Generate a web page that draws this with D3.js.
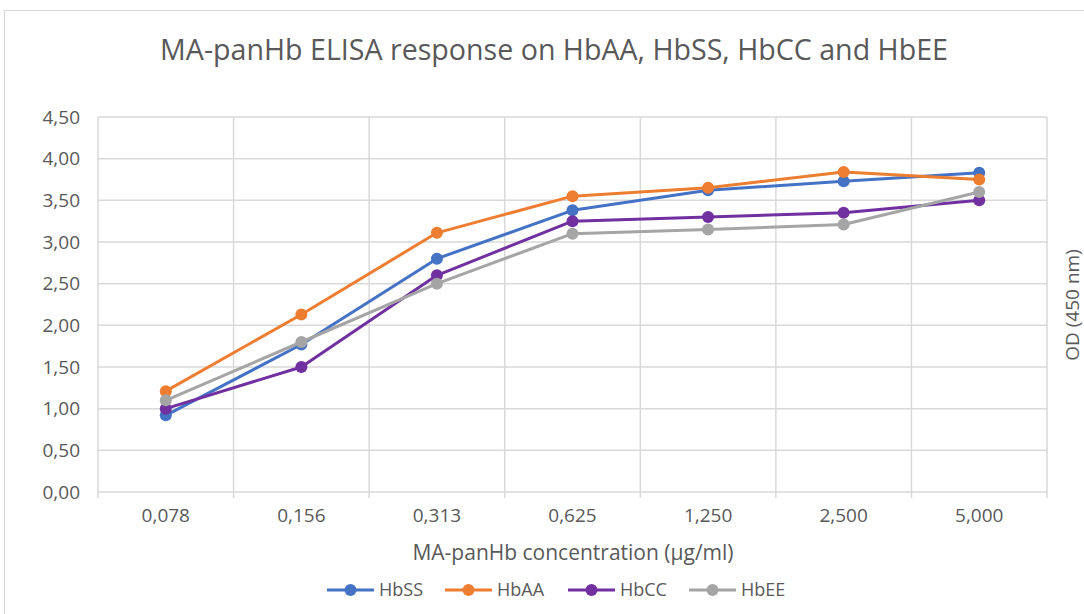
<!DOCTYPE html>
<html>
<head>
<meta charset="utf-8">
<script src="https://cdn.jsdelivr.net/npm/d3@7"></script>
<style>
    body { margin: 0; background: #fff; }
    svg text { font-family: "Open Sans", "Noto Sans", sans-serif; fill: #595959; }
</style>
</head>
<body>
<div id="chart"></div>
<script>
// categories and values
const categories = ['0,078', '0,156', '0,313', '0,625', '1,250', '2,500', '5,000'];
const hbSS = [0.92, 1.77, 2.80, 3.38, 3.62, 3.73, 3.83];
const hbAA = [1.21, 2.13, 3.11, 3.55, 3.65, 3.84, 3.75];
const hbCC = [1.00, 1.50, 2.60, 3.25, 3.30, 3.35, 3.50];
const hbEE = [1.10, 1.80, 2.50, 3.10, 3.15, 3.21, 3.60];
const seriesNames = ['HbSS', 'HbAA', 'HbCC', 'HbEE'];
const yTicks = [0, 0.5, 1, 1.5, 2, 2.5, 3, 3.5, 4, 4.5];

const colors = ['#4472C4', '#ED7D31', '#7030A0', '#A5A5A5'];
const series = [hbSS, hbAA, hbCC, hbEE].map((values, i) => ({ name: seriesNames[i], values, color: colors[i] }));

const width = 1084, height = 614;
const plot = { left: 98, right: 1047, top: 117, bottom: 492 };

const svg = d3.select('#chart').append('svg')
    .attr('width', width)
    .attr('height', height);

// chart frame
svg.append('rect')
    .attr('x', 4.5).attr('y', 10.5)
    .attr('width', width + 10).attr('height', height + 10)
    .attr('fill', 'none')
    .attr('stroke', '#d9d9d9');

const x = d3.scaleBand().domain(categories).range([plot.left, plot.right]);
const y = d3.scaleLinear().domain([0, 4.5]).range([plot.bottom, plot.top]);

// horizontal gridlines
svg.append('g')
    .selectAll('line')
    .data(yTicks)
    .enter()
    .append('line')
    .attr('x1', plot.left).attr('x2', plot.right)
    .attr('y1', d => y(d)).attr('y2', d => y(d))
    .attr('stroke', '#d9d9d9').attr('stroke-width', 1.5);

// vertical gridlines at category boundaries
const bounds = categories.map(c => x(c)).concat([plot.right]);
svg.append('g')
    .selectAll('line')
    .data(bounds)
    .enter()
    .append('line')
    .attr('x1', d => d).attr('x2', d => d)
    .attr('y1', plot.top).attr('y2', plot.bottom + 6)
    .attr('stroke', '#d9d9d9').attr('stroke-width', 1.5);

// y axis labels
const yAxis = svg.append('g')
    .attr('transform', `translate(${plot.left},0)`)
    .call(d3.axisLeft(y).tickValues(yTicks).tickSize(0).tickPadding(18)
        .tickFormat(d => d3.format('.2f')(d).replace('.', ',')));
yAxis.select('.domain').remove();
yAxis.selectAll('text').style('font-size', '19px').attr('fill', '#595959');

// x axis labels
const xAxis = svg.append('g')
    .attr('transform', `translate(0,${plot.bottom})`)
    .call(d3.axisBottom(x).tickSize(0).tickPadding(17));
xAxis.select('.domain').remove();
xAxis.selectAll('text').style('font-size', '19px').attr('fill', '#595959');

// lines and markers
const line = d3.line()
    .x((d, i) => x(categories[i]) + x.bandwidth() / 2)
    .y(d => y(d));

series.forEach(s => {
    svg.append('path')
        .datum(s.values)
        .attr('fill', 'none')
        .attr('stroke', s.color)
        .attr('stroke-width', 3)
        .attr('stroke-linejoin', 'round')
        .attr('d', line);
    svg.append('g')
        .selectAll('circle')
        .data(s.values)
        .enter()
        .append('circle')
        .attr('cx', (d, i) => x(categories[i]) + x.bandwidth() / 2)
        .attr('cy', d => y(d))
        .attr('r', 6)
        .attr('fill', s.color);
});

// title
svg.append('text')
    .attr('x', 554).attr('y', 60)
    .attr('text-anchor', 'middle')
    .style('font-size', '28.6px')
    .text('MA-panHb ELISA response on HbAA, HbSS, HbCC and HbEE');

// x axis title
svg.append('text')
    .attr('x', 573).attr('y', 560)
    .attr('text-anchor', 'middle')
    .style('font-size', '21px')
    .text('MA-panHb concentration (µg/ml)');

// y axis title on the right
svg.append('text')
    .attr('transform', 'translate(1079,305) rotate(-90)')
    .attr('text-anchor', 'middle')
    .style('font-size', '19px')
    .text('OD (450 nm)');

// legend
const legendX = [327, 445, 568, 689];
const legend = svg.append('g')
    .selectAll('g')
    .data(series)
    .enter()
    .append('g')
    .attr('transform', (d, i) => `translate(${legendX[i]},590)`);
legend.append('line')
    .attr('x1', 0).attr('x2', 47)
    .attr('stroke', d => d.color).attr('stroke-width', 3);
legend.append('circle')
    .attr('cx', 23.5).attr('r', 6)
    .attr('fill', d => d.color);
legend.append('text')
    .attr('x', 52).attr('y', 6)
    .style('font-size', '18px')
    .text(d => d.name);
</script>
</body>
</html>
